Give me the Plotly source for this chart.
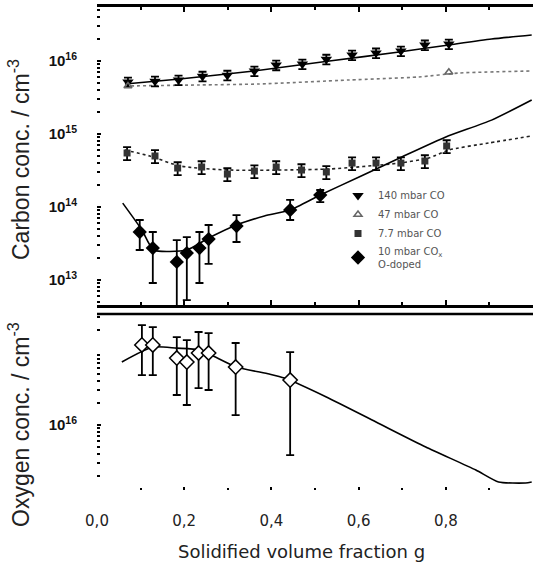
import plotly.graph_objects as go

# ---------------- data ----------------
# Carbon, 140 mbar CO
g_140 = [0.071, 0.133, 0.187, 0.242, 0.299, 0.361, 0.411, 0.471, 0.526, 0.585, 0.640, 0.697, 0.752, 0.807]
c_140 = [5.15e15, 5.3e15, 5.5e15, 6.2e15, 6.4e15, 7.3e15, 8.8e15, 9.1e15, 1.06e16, 1.21e16, 1.29e16, 1.37e16, 1.66e16, 1.71e16]
model_g_140 = [0.064, 0.19, 0.36, 0.533, 0.693, 0.807, 0.905, 0.997]
model_c_140 = [4.84e15, 5.67e15, 7.3e15, 1.0e16, 1.33e16, 1.66e16, 2.0e16, 2.27e16]

# Carbon, 47 mbar CO
g_47 = [0.071, 0.807]
c_47 = [4.55e15, 7.0e15]
model_g_47 = [0.064, 0.235, 0.37, 0.578, 0.738, 0.830, 0.997]
model_c_47 = [4.55e15, 4.7e15, 4.84e15, 5.5e15, 6.05e15, 6.85e15, 7.3e15]

# Carbon, 7.7 mbar CO
g_77 = [0.069, 0.133, 0.185, 0.240, 0.299, 0.361, 0.411, 0.469, 0.526, 0.585, 0.640, 0.697, 0.752, 0.802]
c_77 = [5.5e14, 5.0e14, 3.42e14, 3.53e14, 2.83e14, 3.11e14, 3.53e14, 3.21e14, 3.02e14, 4.0e14, 4.0e14, 4.0e14, 4.27e14, 6.85e14]
model_g_77 = [0.064, 0.121, 0.19, 0.304, 0.533, 0.693, 0.761, 0.807, 0.898, 0.997]
model_c_77 = [6.04e14, 5.0e14, 3.65e14, 3.21e14, 3.32e14, 4.0e14, 4.69e14, 6.04e14, 7.53e14, 9.4e14]

# Carbon, 10 mbar CO2, O-doped
g_co2 = [0.098, 0.128, 0.183, 0.206, 0.235, 0.256, 0.320, 0.443, 0.512]
c_co2 = [4.55e13, 2.74e13, 1.77e13, 2.34e13, 2.74e13, 3.64e13, 5.5e13, 9.1e13, 1.46e14]
c_co2_hi = [6.64e13, 4.55e13, 3.53e13, 3.88e13, 4.55e13, 5.67e13, 7.77e13, 1.25e14, 1.71e14]
c_co2_lo = [2.58e13, 9.1e12, 3.0e11, 5.3e12, 9.1e12, 1.66e13, 3.32e13, 6.64e13, 1.17e14]
model_g_co2 = [0.059, 0.103, 0.130, 0.206, 0.256, 0.320, 0.384, 0.443, 0.512, 0.601, 0.699, 0.800, 0.905, 0.997]
model_c_co2 = [1.13e14, 4.84e13, 2.58e13, 2.58e13, 3.76e13, 5.67e13, 7.53e13, 9.1e13, 1.46e14, 2.58e14, 4.84e14, 9.1e14, 1.55e15, 2.92e15]

# Oxygen, 10 mbar CO2
g_o = [0.103, 0.128, 0.183, 0.206, 0.233, 0.256, 0.318, 0.443]
o_val = [1.25e17, 1.25e17, 8.28e16, 7.3e16, 9.7e16, 9.7e16, 6.23e16, 4.13e16]
o_hi = [2.34e17, 2.2e17, 1.6e17, 1.46e17, 1.88e17, 1.82e17, 1.33e17, 1.0e17]
o_lo = [4.84e16, 4.84e16, 2.58e16, 1.88e16, 3.21e16, 3.02e16, 1.37e16, 3.88e15]
model_g_o = [0.057, 0.128, 0.183, 0.235, 0.320, 0.395, 0.430, 0.526, 0.640, 0.754, 0.869, 0.921, 0.983, 0.997]
model_o = [7.3e16, 1.17e17, 1.13e17, 1.07e17, 6.23e16, 5.0e16, 4.4e16, 2.42e16, 1.1e16, 5.0e15, 2.42e15, 1.66e15, 1.61e15, 1.66e15]

# relative error of the small carbon bars
rel_err_140 = 0.15
rel_err_77 = 0.2

carbon_ticks = [1e13, 1e14, 1e15, 1e16]
carbon_ticktext = ["10<sup>13</sup>", "10<sup>14</sup>", "10<sup>15</sup>", "10<sup>16</sup>"]
oxygen_ticks = [1e16]
oxygen_ticktext = ["10<sup>16</sup>"]

legend_names = ["140 mbar CO", "47 mbar CO", "7.7 mbar CO", "10 mbar CO<sub>x</sub><br>O-doped"]

# ---------------- figure ----------------
fig = go.Figure()

def model(xs, ys, dash, color, yaxis):
    fig.add_trace(go.Scatter(x=xs, y=ys, mode="lines", showlegend=False, hoverinfo="skip",
                             line=dict(color=color, width=1.6, dash=dash, shape="spline", smoothing=0.6),
                             xaxis="x" if yaxis == "y" else "x2", yaxis=yaxis))

model(model_g_140, model_c_140, "solid", "black", "y")
model(model_g_47, model_c_47, "dot", "#777777", "y")
model(model_g_77, model_c_77, "dot", "#222222", "y")
model(model_g_co2, model_c_co2, "solid", "black", "y")
model(model_g_o, model_o, "solid", "black", "y2")

eb = dict(color="black", thickness=1.8, width=4)

fig.add_trace(go.Scatter(
    x=g_140, y=c_140, mode="markers", name=legend_names[0],
    marker=dict(symbol="triangle-down", size=10, color="black"),
    error_y=dict(type="data", symmetric=False,
                 array=[v * rel_err_140 for v in c_140],
                 arrayminus=[v * rel_err_140 for v in c_140], **eb),
    xaxis="x", yaxis="y"))

fig.add_trace(go.Scatter(
    x=g_47, y=c_47, mode="markers", name=legend_names[1],
    marker=dict(symbol="triangle-up-open", size=7, color="#666666", line=dict(width=1.5)),
    xaxis="x", yaxis="y"))

fig.add_trace(go.Scatter(
    x=g_77, y=c_77, mode="markers", name=legend_names[2],
    marker=dict(symbol="square", size=7, color="#333333"),
    error_y=dict(type="data", symmetric=False,
                 array=[v * rel_err_77 for v in c_77],
                 arrayminus=[v * rel_err_77 for v in c_77], **eb),
    xaxis="x", yaxis="y"))

fig.add_trace(go.Scatter(
    x=g_co2, y=c_co2, mode="markers", name=legend_names[3],
    marker=dict(symbol="diamond", size=11, color="black"),
    error_y=dict(type="data", symmetric=False,
                 array=[h - v for h, v in zip(c_co2_hi, c_co2)],
                 arrayminus=[v - l for v, l in zip(c_co2, c_co2_lo)], **eb),
    xaxis="x", yaxis="y"))

fig.add_trace(go.Scatter(
    x=g_o, y=o_val, mode="markers", showlegend=False,
    marker=dict(symbol="diamond", size=11, color="white", line=dict(color="black", width=1.5)),
    error_y=dict(type="data", symmetric=False,
                 array=[h - v for h, v in zip(o_hi, o_val)],
                 arrayminus=[v - l for v, l in zip(o_val, o_lo)], **eb),
    xaxis="x2", yaxis="y2"))

W, H = 533, 568
L, T = 97, 7
bot = 490                     # plot-area bottom, pixels from the top
plot_h = bot - T
plot_w = W - L

def py(y_px):   # pixel row -> paper fraction
    return (bot - y_px) / plot_h

def px(x_px):   # pixel column -> paper fraction
    return (x_px - L) / plot_w

minor_c = [m * 10 ** e for e in range(12, 17) for m in range(2, 10)]
minor_o = [m * 10 ** e for e in range(15, 18) for m in range(2, 10)]

fig.update_layout(
    width=W, height=H,
    margin=dict(l=L, r=0, t=T, b=H - bot),
    paper_bgcolor="white", plot_bgcolor="white",
    separators=",.",
    showlegend=True,
    legend=dict(x=px(338), y=py(181), xanchor="left", yanchor="top",
                bgcolor="rgba(0,0,0,0)", font=dict(family="DejaVu Sans", size=10, color="#555555"),
                tracegroupgap=0, itemwidth=30),
    xaxis=dict(domain=[0, 1], anchor="y", range=[0, 1], showgrid=False, zeroline=False,
               showline=True, linewidth=2.5, linecolor="black", mirror="ticks",
               ticks="inside", ticklen=5, tickwidth=1.5, tickcolor="black", dtick=0.2, tick0=0,
               minor=dict(ticks="inside", ticklen=3, tickwidth=1.5, dtick=0.1, tickcolor="black"),
               showticklabels=False),
    xaxis2=dict(domain=[0, 1], anchor="y2", matches="x", range=[0, 1], showgrid=False, zeroline=False,
                showline=False, ticks="inside", ticklen=3, tickwidth=2, tickcolor="black",
                dtick=0.2, tick0=0, tickformat=".1f",
                minor=dict(ticks="inside", ticklen=2, tickwidth=2, dtick=0.1, tickcolor="black"),
                tickfont=dict(family="DejaVu Sans", size=15, color="#222222"),
                ticklabelstandoff=20),
    yaxis=dict(domain=[py(305), 1], anchor="x", type="log", range=[12.658, 16.740],
               showgrid=False, zeroline=False, showline=False,
               tickmode="array", tickvals=carbon_ticks, ticktext=carbon_ticktext,
               ticks="inside", ticklen=4, tickwidth=2, tickcolor="black",
               minor=dict(ticks="inside", ticklen=3, tickwidth=2, tickmode="array",
                          tickvals=minor_c, tickcolor="black"),
               tickfont=dict(family="Liberation Sans", size=15, color="#111111", weight="bold"),
               ticklabelstandoff=19),
    yaxis2=dict(domain=[0, py(314)], anchor="x2", type="log", range=[15.110, 17.521],
                showgrid=False, zeroline=False, showline=False,
                tickmode="array", tickvals=oxygen_ticks, ticktext=oxygen_ticktext,
                ticks="inside", ticklen=4, tickwidth=2, tickcolor="black",
                minor=dict(ticks="inside", ticklen=3, tickwidth=2, tickmode="array",
                           tickvals=minor_o, tickcolor="black"),
                tickfont=dict(family="Liberation Sans", size=15, color="#111111", weight="bold"),
                ticklabelstandoff=19),
    shapes=[dict(type="line", xref="paper", yref="y2 domain", x0=0, x1=1, y0=1, y1=1,
                 line=dict(color="black", width=2.5))],
    annotations=[
        dict(text="Solidified volume fraction g", xref="paper", yref="paper",
             x=px(301), y=py(551), xanchor="center", yanchor="middle", showarrow=False,
             font=dict(family="DejaVu Sans", size=18, color="#222222")),
        dict(text="Carbon conc. / cm<sup>-3</sup>", xref="paper", yref="paper",
             x=px(19), y=py(160), xanchor="center", yanchor="middle", showarrow=False, textangle=-90,
             font=dict(family="Liberation Sans", size=23, color="#222222")),
        dict(text="Oxygen conc. / cm<sup>-3</sup>", xref="paper", yref="paper",
             x=px(19), y=py(425), xanchor="center", yanchor="middle", showarrow=False, textangle=-90,
             font=dict(family="Liberation Sans", size=23, color="#222222")),
    ],
)

# remove the browser's default 8px body margin so the 533x568 figure fills the window exactly
fig.write_html("out.html",
               config={"displayModeBar": False},
               post_script="document.body.style.margin='0';"
                           "document.documentElement.style.overflow='hidden';")
